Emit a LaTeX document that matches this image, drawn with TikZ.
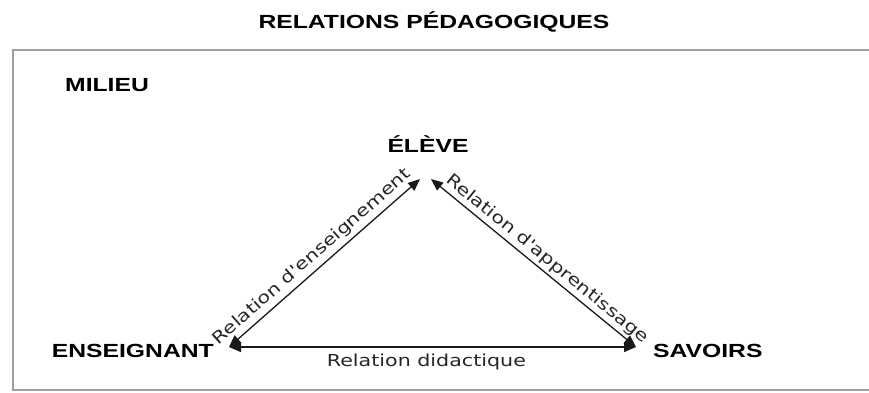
\documentclass[tikz,border=0pt]{standalone}
\usepackage{fontspec}
\newfontfamily\capsfont{Liberation Sans}[FakeStretch=1.3]
\newfontfamily\relfont{DejaVu Sans}[FakeStretch=1.25]
\usetikzlibrary{arrows.meta}

\begin{document}
\begin{tikzpicture}[
  x=1pt, y=-1pt,
  every node/.style = {inner sep=0pt},
  pole/.style = {font=\capsfont\bfseries\fontsize{19}{21}\selectfont, text=black},
  relation/.style = {font=\relfont\fontsize{16.5}{18}\selectfont, text=black!85},
  link/.style = {{Triangle[length=12pt,width=10pt]}-{Triangle[length=12pt,width=10pt]},
                 line width=1.3pt, black!90},
]

% ── Page and frame (cut on the right) ────────────────────────────────────
\clip (0,0) rectangle (869,392);
\draw[gray!75, line width=1.2pt] (13,50) rectangle (900,390);

% ── Labels ───────────────────────────────────────────────────────────────
\node[pole, anchor=base] (title) at (434,28) {RELATIONS PÉDAGOGIQUES};
\node[pole, anchor=base west] (milieu) at (65,91) {MILIEU};
\node[pole, anchor=base] (eleve) at (428,152) {ÉLÈVE};
\node[pole, anchor=base east] (enseignant) at (214,357) {ENSEIGNANT};
\node[pole, anchor=base west] (savoirs) at (653,357) {SAVOIRS};

% ── Tips of the triangle ─────────────────────────────────────────────────
\coordinate (ens-tip) at (229,347);
\coordinate (sav-tip) at (636,347);
\coordinate (ele-left) at (420,179);
\coordinate (ele-right) at (431,179);

% ── Relations ────────────────────────────────────────────────────────────
\draw[link] (ens-tip) -- node[relation, sloped, above=4pt, pos=0.48]
  (enseignement) {Relation d'enseignement} (ele-left);
\draw[link] (ele-right) -- node[relation, sloped, above=3pt, pos=0.53]
  (apprentissage) {Relation d'apprentissage} (sav-tip);
\draw[link] (ens-tip) -- node[relation, below=6pt, pos=0.485]
  (didactique) {Relation didactique} (sav-tip);

\end{tikzpicture}
\end{document}
